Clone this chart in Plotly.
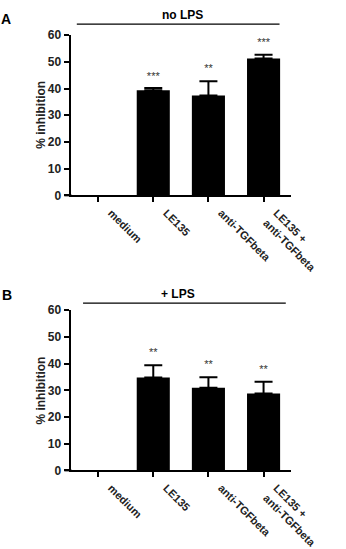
import plotly.graph_objects as go
from plotly.subplots import make_subplots

categories = ["medium", "LE135", "anti-TGFbeta", "LE135 +<br>anti-TGFbeta"]

# Panel A: no LPS
a_values = [0, 39.4, 37.4, 51.3]
a_errors = [0, 0.8, 5.3, 1.4]
a_stars = ["", "***", "**", "***"]
a_star_y = [0, 44.3, 47.3, 56.8]

# Panel B: + LPS
b_values = [0, 34.8, 31.0, 28.8]
b_errors = [0, 4.6, 3.9, 4.4]
b_stars = ["", "**", "**", "**"]
b_star_y = [0, 43.8, 39.4, 37.6]

y_ticks = [0, 10, 20, 30, 40, 50, 60]

W, H = 346, 549
FONT = "Arial, Liberation Sans, sans-serif"

def px(x):
    return x / W

def py(y):
    return 1 - y / H

fig = make_subplots(rows=2, cols=1)

panels = [
    (1, a_values, a_errors, a_stars, a_star_y),
    (2, b_values, b_errors, b_stars, b_star_y),
]
for row, vals, errs, stars, sy in panels:
    fig.add_trace(go.Bar(
        x=categories, y=vals, width=0.6,
        marker=dict(color="black", line=dict(width=0)),
        showlegend=False, hoverinfo="skip",
    ), row=row, col=1)
    # upward error bars only for groups with a measured error
    idx = [i for i, e in enumerate(errs) if e > 0]
    fig.add_trace(go.Scatter(
        x=[categories[i] for i in idx], y=[vals[i] for i in idx], mode="markers",
        marker=dict(size=1, color="rgba(0,0,0,0)"),
        error_y=dict(type="data", array=[errs[i] for i in idx], arrayminus=[0] * len(idx),
                     symmetric=False, color="black", thickness=2, width=9),
        showlegend=False, hoverinfo="skip",
    ), row=row, col=1)
    fig.add_trace(go.Scatter(
        x=categories, y=sy, mode="text", text=stars,
        textfont=dict(family=FONT, size=11, color="#333"),
        showlegend=False, hoverinfo="skip", cliponaxis=False,
    ), row=row, col=1)

xdom = [px(79), px(326)]
axis_common = dict(showline=True, linecolor="black", linewidth=2,
                   ticks="outside", ticklen=5, tickwidth=2, tickcolor="black",
                   showgrid=False, zeroline=False)

fig.update_layout(
    width=W, height=H,
    margin=dict(l=0, r=0, t=0, b=0),
    paper_bgcolor="white", plot_bgcolor="white",
    font=dict(family=FONT, color="black"),
    bargap=0.4,
)
for ax in ["xaxis", "xaxis2"]:
    fig.layout[ax].update(domain=xdom, range=[-0.5, 3.5], tickangle=45,
                          ticklabelshift=13,
                          tickfont=dict(family=FONT, size=11, color="#222", weight="bold"),
                          **axis_common)
fig.layout.yaxis.update(domain=[py(194), py(29)])
fig.layout.yaxis2.update(domain=[py(477.3), py(312.3)])
for ax in ["yaxis", "yaxis2"]:
    fig.layout[ax].update(range=[0, 60], tickvals=y_ticks,
                          tickfont=dict(family=FONT, size=12, color="#222", weight="bold"),
                          **axis_common)

annots = [
    dict(text="<b>A</b>", x=px(7), y=py(12), size=14),
    dict(text="<b>B</b>", x=px(8), y=py(297), size=14),
    dict(text="<b>no LPS</b>", x=px(204), y=py(8), size=12),
    dict(text="<b>+ LPS</b>", x=px(199), y=py(296), size=12),
]
for a in annots:
    fig.add_annotation(text=a["text"], x=a["x"], y=a["y"], xref="paper", yref="paper",
                       showarrow=False, xanchor="center", yanchor="middle",
                       font=dict(family=FONT, size=a["size"], color="black"))
for yc in [py(111), py(395)]:
    fig.add_annotation(text="<b>% inhibition</b>", x=px(46), y=yc, xref="paper", yref="paper",
                       showarrow=False, textangle=-90, xanchor="center", yanchor="middle",
                       font=dict(family=FONT, size=12, color="#222"))

fig.add_shape(type="line", xref="paper", yref="paper", x0=px(86), x1=px(313),
              y0=py(17.7), y1=py(17.7), line=dict(color="black", width=1.2))
fig.add_shape(type="line", xref="paper", yref="paper", x0=px(93), x1=px(320),
              y0=py(305), y1=py(305), line=dict(color="black", width=1.2))
# small overhang of x-axis line left of the y-axis
for y0 in [py(194), py(477.3)]:
    fig.add_shape(type="line", xref="paper", yref="paper", x0=px(72), x1=px(80),
                  y0=y0, y1=y0, line=dict(color="black", width=2))

fig.write_html("out.html")
